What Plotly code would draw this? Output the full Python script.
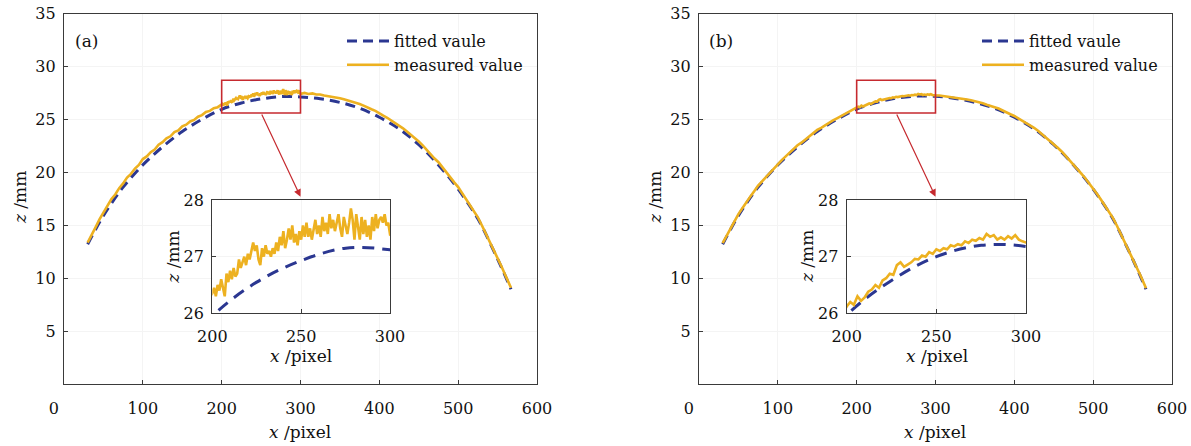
import plotly.graph_objects as go

W, H = 1191, 446
FONT = "DejaVu Serif"
BLUE = "#2b3791"
GOLD = "#EDB120"
RED = "#c62a2f"
AX = "#3a3a3a"

# ---------------- data ----------------
fit_x = [30, 40, 50, 60, 75, 100, 125, 150, 175, 200, 225, 250, 275, 300, 325,
         350, 375, 400, 425, 450, 475, 500, 525, 545, 555, 567]
fit_a = [13.2, 14.6, 15.9, 17.05, 18.6, 20.7, 22.4, 23.85, 25.0, 25.95, 26.55,
         26.93, 27.15, 27.12, 26.95, 26.6, 26.05, 25.2, 24.1, 22.6, 20.7, 18.4,
         15.6, 12.6, 11.0, 8.95]
fit_b = [13.2, 14.6, 15.9, 17.05, 18.6, 20.7, 22.4, 23.85, 25.0, 25.97, 26.58,
         27.0, 27.2, 27.18, 26.98, 26.6, 26.05, 25.2, 24.1, 22.6, 20.7, 18.4,
         15.6, 12.6, 11.0, 8.95]

meas_a_x = list(range(30, 200, 5)) + list(range(200, 301)) + list(range(305, 566, 5)) + [567]
meas_a = [
    # 30 .. 195
    13.35, 14.15, 14.8, 15.55, 16.2, 16.75, 17.45, 17.9, 18.5, 18.95, 19.5, 19.85,
    20.35, 20.7, 21.25, 21.5, 21.9, 22.15, 22.6, 22.85, 23.2, 23.4, 23.8, 23.95,
    24.35, 24.5, 24.8, 24.95, 25.25, 25.4, 25.7, 25.8, 26.05, 26.15,
    # 200 .. 300
    26.35, 26.45, 26.3, 26.5, 26.4, 26.6, 26.45, 26.3, 26.7, 26.55,
    26.75, 26.6, 26.8, 26.65, 26.7, 26.95, 26.8, 26.9, 27.0, 26.85,
    27.05, 26.95, 27.1, 27.25, 27.1, 27.2, 26.95, 26.85, 27.15, 27.0,
    27.2, 27.05, 27.1, 27.0, 27.15, 27.05, 27.25, 27.1, 27.35, 27.2,
    27.45, 27.15, 27.3, 27.5, 27.3, 27.55, 27.25, 27.4, 27.2, 27.45,
    27.3, 27.55, 27.35, 27.6, 27.35, 27.5, 27.3, 27.45, 27.65, 27.4,
    27.55, 27.35, 27.7, 27.45, 27.6, 27.4, 27.75, 27.5, 27.65, 27.45,
    27.6, 27.75, 27.5, 27.35, 27.7, 27.55, 27.4, 27.6, 27.85, 27.65,
    27.3, 27.75, 27.5, 27.3, 27.7, 27.4, 27.65, 27.35, 27.55, 27.3,
    27.7, 27.45, 27.75, 27.5, 27.65, 27.7, 27.6, 27.75, 27.55, 27.6,
    27.4,
    # 305 .. 565, 567
    27.5, 27.4, 27.45, 27.35, 27.35, 27.25, 27.2, 27.15, 27.05, 27.0, 26.9, 26.8,
    26.7, 26.6, 26.45, 26.3, 26.1, 25.95, 25.8, 25.55, 25.35, 25.15, 24.9, 24.7,
    24.45, 24.15, 23.85, 23.55, 23.2, 22.9, 22.55, 22.1, 21.75, 21.3, 20.95, 20.45,
    20.0, 19.55, 19.05, 18.6, 18.05, 17.45, 16.9, 16.3, 15.75, 15.0, 14.25, 13.5,
    12.75, 11.95, 11.1, 10.25, 9.4, 9.1,
]

meas_b_x = list(range(30, 200, 5)) + list(range(200, 301, 2)) + list(range(305, 566, 5)) + [567]
meas_b = [
    # 30 .. 195
    13.3, 14.0, 14.75, 15.35, 16.05, 16.6, 17.2, 17.7, 18.2, 18.75, 19.15, 19.55,
    20.0, 20.4, 20.85, 21.15, 21.5, 21.85, 22.15, 22.55, 22.8, 23.1, 23.4, 23.65,
    24.0, 24.2, 24.45, 24.65, 24.9, 25.1, 25.3, 25.5, 25.7, 25.85,
    # 200 .. 300 (step 2)
    26.12, 26.2, 26.15, 26.3, 26.22, 26.28, 26.38, 26.42, 26.5, 26.45,
    26.58, 26.62, 26.7, 26.68, 26.85, 26.9, 26.82, 26.86, 26.9, 26.96,
    26.95, 27.02, 27.0, 27.08, 27.05, 27.13, 27.1, 27.15, 27.13, 27.2,
    27.18, 27.22, 27.2, 27.27, 27.24, 27.3, 27.28, 27.33, 27.3, 27.4,
    27.35, 27.38, 27.3, 27.34, 27.3, 27.36, 27.32, 27.38, 27.3, 27.27,
    27.25,
    # 305 .. 565, 567
    27.25, 27.2, 27.18, 27.12, 27.1, 27.02, 26.95, 26.88, 26.8, 26.72, 26.6, 26.52,
    26.38, 26.3, 26.15, 26.02, 25.82, 25.68, 25.48, 25.32, 25.1, 24.88, 24.65, 24.45,
    24.2, 23.92, 23.6, 23.32, 23.0, 22.72, 22.32, 21.97, 21.56, 21.2, 20.8, 20.36,
    19.88, 19.44, 18.96, 18.52, 17.95, 17.4, 16.82, 16.28, 15.7, 14.97, 14.2, 13.47,
    12.7, 11.9, 11.1, 10.25, 9.4, 9.05,
]

main_x_ticks = [0, 100, 200, 300, 400, 500, 600]
main_x_text = ["0\u00a0\u00a0\u00a0\u00a0", "100", "200", "300", "400", "500", "600"]
main_y_ticks = [5, 10, 15, 20, 25, 30, 35]
inset_x_ticks = [200, 250, 300]
inset_y_ticks = [26, 27, 28]
zoom_x = [200, 300]
zoom_y = [25.6, 28.7]
panel_labels = ["(a)", "(b)"]

# ---------------- figure ----------------
fig = go.Figure()

def px_x(p):
    return p / W

def px_y(p):
    return 1 - p / H

panels = [
    dict(fit=fit_a, mx=meas_a_x, my=meas_a, xa="x", ya="y", xi="x3", yi="y3", leg="legend"),
    dict(fit=fit_b, mx=meas_b_x, my=meas_b, xa="x2", ya="y2", xi="x4", yi="y4", leg="legend2"),
]

for p in panels:
    fig.add_trace(go.Scatter(x=fit_x, y=p["fit"], mode="lines", name="fitted vaule",
                             line=dict(color=BLUE, width=3, dash="10px,6px", shape="spline"),
                             xaxis=p["xa"], yaxis=p["ya"], legend=p["leg"]))
    fig.add_trace(go.Scatter(x=p["mx"], y=p["my"], mode="lines", name="measured value",
                             line=dict(color=GOLD, width=2.6),
                             xaxis=p["xa"], yaxis=p["ya"], legend=p["leg"]))
    fig.add_trace(go.Scatter(x=fit_x, y=p["fit"], mode="lines", showlegend=False,
                             line=dict(color=BLUE, width=3, dash="12px,8px", shape="spline"),
                             xaxis=p["xi"], yaxis=p["yi"]))
    fig.add_trace(go.Scatter(x=p["mx"], y=p["my"], mode="lines", showlegend=False,
                             line=dict(color=GOLD, width=2.6),
                             xaxis=p["xi"], yaxis=p["yi"]))

tickfont = dict(family=FONT, size=16, color="#111")
common = dict(showline=True, linecolor=AX, linewidth=1.3, mirror=True,
              ticks="inside", ticklen=4, tickcolor=AX, tickwidth=1.2,
              showgrid=True, gridcolor="#f4f4f4", zeroline=False,
              tickfont=tickfont, automargin=False)

main_dom_y = [px_y(384), px_y(13.5)]
inset_dom_y = [px_y(313.3), px_y(200)]

fig.update_layout(
    width=W, height=H, margin=dict(l=0, r=0, t=0, b=0, autoexpand=False),
    paper_bgcolor="white", plot_bgcolor="white",
    xaxis=dict(domain=[px_x(64), px_x(537)], range=[0, 600], tickvals=main_x_ticks,
               ticktext=main_x_text, ticklabelstandoff=10, anchor="y", **common),
    yaxis=dict(domain=main_dom_y, range=[0, 35], tickvals=main_y_ticks,
               ticklabelstandoff=4, anchor="x", **common),
    xaxis2=dict(domain=[px_x(699), px_x(1172)], range=[0, 600], tickvals=main_x_ticks,
                ticktext=main_x_text, ticklabelstandoff=10, anchor="y2", **common),
    yaxis2=dict(domain=main_dom_y, range=[0, 35], tickvals=main_y_ticks,
                ticklabelstandoff=4, anchor="x2", **common),
    xaxis3=dict(domain=[px_x(212.3), px_x(390)], range=zoom_x, tickvals=inset_x_ticks,
                ticklabelstandoff=8, anchor="y3", **common),
    yaxis3=dict(domain=inset_dom_y, range=[26, 28], tickvals=inset_y_ticks,
                ticklabelstandoff=4, anchor="x3", **common),
    xaxis4=dict(domain=[px_x(846.7), px_x(1026)], range=zoom_x, tickvals=inset_x_ticks,
                ticklabelstandoff=8, anchor="y4", **common),
    yaxis4=dict(domain=inset_dom_y, range=[26, 28], tickvals=inset_y_ticks,
                ticklabelstandoff=4, anchor="x4", **common),
    legend=dict(x=px_x(342), y=px_y(24), xanchor="left", yanchor="top",
                bgcolor="rgba(0,0,0,0)", font=dict(family=FONT, size=16, color="#111"),
                itemwidth=42, tracegroupgap=0),
    legend2=dict(x=px_x(977), y=px_y(24), xanchor="left", yanchor="top",
                 bgcolor="rgba(0,0,0,0)", font=dict(family=FONT, size=16, color="#111"),
                 itemwidth=42, tracegroupgap=0),
)

annos = []
shapes = []
title_font = dict(family=FONT, size=17, color="#111")
inset_title_x = [301, 936.7]
inset_ytitle_x = [172.7, 807]
center = dict(xanchor="center", yanchor="middle", xref="paper", yref="paper", showarrow=False)
for i, (xa, ya) in enumerate([("x", "y"), ("x2", "y2")]):
    off = 0 if i == 0 else 635
    annos.append(dict(x=px_x(86 + off), y=px_y(41), text=panel_labels[i],
                      font=dict(family=FONT, size=17, color="#111"), **center))
    annos.append(dict(x=px_x(300 + off), y=px_y(432), text="<i>x</i> /pixel",
                      font=title_font, **center))
    annos.append(dict(x=px_x(20 + off), y=px_y(198), text="<i>z</i> /mm", textangle=-90,
                      font=title_font, **center))
    annos.append(dict(x=px_x(inset_title_x[i]), y=px_y(356), text="<i>x</i> /pixel",
                      font=title_font, **center))
    annos.append(dict(x=px_x(inset_ytitle_x[i]), y=px_y(257), text="<i>z</i> /mm", textangle=-90,
                      font=title_font, **center))
    shapes.append(dict(type="rect", xref=xa, yref=ya, x0=zoom_x[0], x1=zoom_x[1],
                       y0=zoom_y[0], y1=zoom_y[1], line=dict(color=RED, width=1.6)))
    annos.append(dict(x=300, y=17.7, xref=xa, yref=ya, ax=250, ay=zoom_y[0],
                      axref=xa, ayref=ya, text="", showarrow=True, arrowhead=2,
                      arrowsize=1.2, arrowwidth=1.2, arrowcolor=RED))

fig.update_layout(annotations=annos, shapes=shapes)
fig.write_html("out.html", config={"displayModeBar": False},
               post_script="document.body.style.margin='0';document.body.style.padding='0';"
                           "document.documentElement.style.overflow='hidden';")
